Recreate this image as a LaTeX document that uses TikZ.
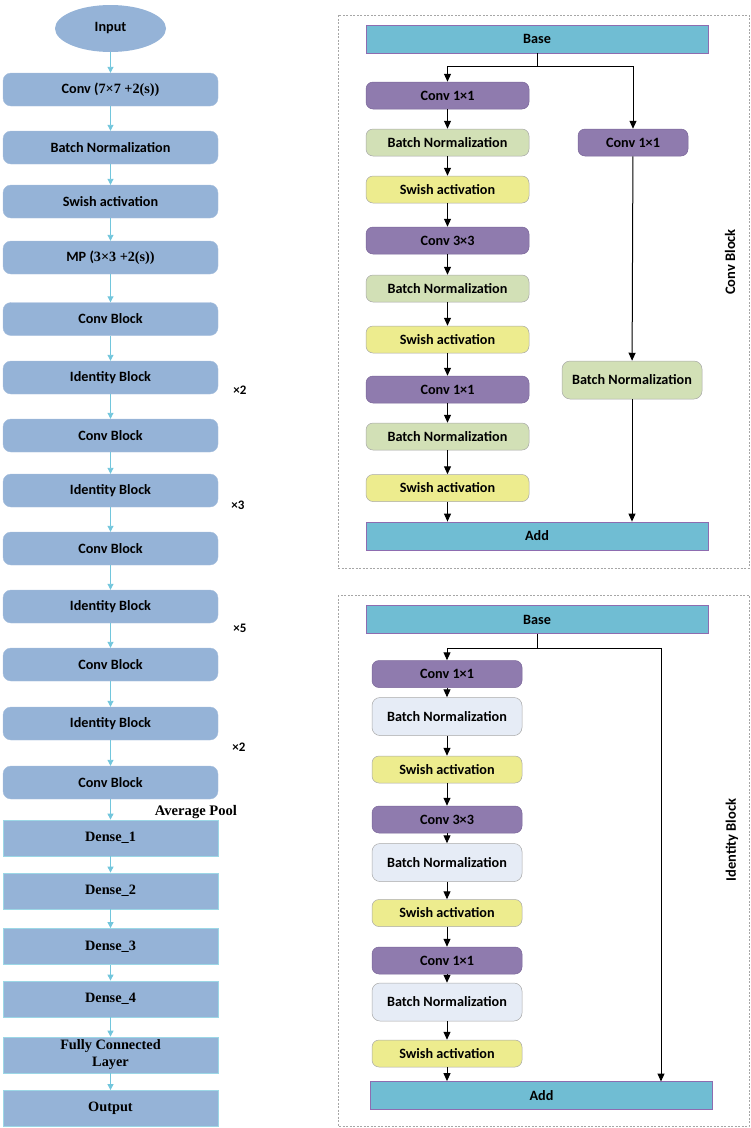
\documentclass[tikz,border=0pt]{standalone}
\usepackage{fontspec}
\setmainfont{Carlito}
\newfontfamily\calfont{Carlito}
\newfontfamily\timesfont{Liberation Serif}
\usetikzlibrary{arrows.meta,shapes.geometric}
\definecolor{lblue}{HTML}{95B3D7}
\definecolor{lcyan}{HTML}{72C6DC}
\definecolor{addcyan}{HTML}{70BDD3}
\definecolor{addedge}{HTML}{8E6CB0}
\definecolor{convpurple}{HTML}{8F7BAE}
\definecolor{convedge}{HTML}{7A6699}
\definecolor{bngreen}{HTML}{D2E0B6}
\definecolor{swyellow}{HTML}{EDEC8E}
\definecolor{bnpale}{HTML}{E6ECF6}
\definecolor{softedge}{HTML}{A8A8A8}
\tikzset{
  every node/.style={inner sep=0pt, font=\calfont\bfseries\fontsize{14.2}{16}\selectfont},
  lbox/.style={rectangle, rounded corners=8pt, fill=lblue, draw=lblue!85!white, minimum width=215pt, minimum height=33pt},
  dbox/.style={rectangle, fill=lblue, draw=lcyan!70!white, line width=0.8pt, minimum width=215pt, minimum height=36pt, font=\timesfont\bfseries\fontsize{14.3}{16}\selectfont},
  larrow/.style={draw=lcyan, line width=0.9pt, -{Triangle[width=6pt,length=6pt]}},
  rarrow/.style={draw=black, line width=1pt, -{Triangle[width=7pt,length=8pt]}},
  rline/.style={draw=black, line width=1pt},
  basebox/.style={rectangle, fill=addcyan, draw=addedge, line width=0.8pt, minimum width=342pt, minimum height=28pt},
  convbox/.style={rectangle, rounded corners=7pt, fill=convpurple, draw=convedge, line width=0.5pt, minimum width=163pt, minimum height=27pt},
  bnbox/.style={rectangle, rounded corners=7pt, fill=bngreen, draw=softedge, line width=0.5pt, minimum width=163pt, minimum height=27pt},
  swbox/.style={rectangle, rounded corners=7pt, fill=swyellow, draw=softedge, line width=0.5pt, minimum width=163pt, minimum height=27pt},
  pbox/.style={rectangle, rounded corners=8pt, fill=bnpale, draw=softedge, line width=0.5pt, minimum width=150pt, minimum height=38pt},
  frame/.style={draw=gray!70, dashed, dash pattern=on 2pt off 1.5pt, line width=0.6pt},
  mult/.style={font=\calfont\bfseries\fontsize{13}{15}\selectfont},
  sidelabel/.style={rotate=90, font=\calfont\bfseries\fontsize{14.5}{16}\selectfont}
}
\begin{document}
\begin{tikzpicture}[x=1pt,y=-1pt]
\useasboundingbox (0,0) rectangle (751,1128);

% ---------------- main network ----------------
\node[ellipse, fill=lblue, minimum width=111pt, minimum height=47pt] (in) at (110.5,28.5) {Input};
\node[lbox] (m1) at (110.5,89.5) {Conv (\timesfont 7×7 +2(s))};
\node[lbox] (m2) at (110.5,147.5) {Batch Normalization};
\node[lbox] (m3) at (110.5,201.5) {Swish activation};
\node[lbox] (m4) at (110.5,257.5) {MP (\timesfont 3×3 +2(s))};
\node[lbox] (m5) at (110.5,319) {Conv Block};
\node[lbox] (m6) at (110.5,377.5) {Identity Block};
\node[lbox] (m7) at (110.5,435.5) {Conv Block};
\node[lbox] (m8) at (110.5,490.5) {Identity Block};
\node[lbox] (m9) at (110.5,548.5) {Conv Block};
\node[lbox] (m10) at (110.5,606.5) {Identity Block};
\node[lbox] (m11) at (110.5,664.5) {Conv Block};
\node[lbox] (m12) at (110.5,723.5) {Identity Block};
\node[lbox] (m13) at (110.5,782.5) {Conv Block};
\node[dbox] (d1) at (110.5,838) {Dense\_1};
\node[dbox] (d2) at (110.5,891) {Dense\_2};
\node[dbox] (d3) at (110.5,946.5) {Dense\_3};
\node[dbox] (d4) at (110.5,999) {Dense\_4};
\node[dbox, align=center, font=\timesfont\bfseries\fontsize{14.3}{17}\selectfont] (fc) at (110.5,1055) {Fully Connected\\Layer};
\node[dbox] (out) at (110.5,1108.5) {Output};

\foreach \a/\b in {in/m1,m1/m2,m2/m3,m3/m4,m4/m5,m5/m6,m6/m7,m7/m8,m8/m9,m9/m10,m10/m11,m11/m12,m12/m13,m13/d1,d1/d2,d2/d3,d3/d4,d4/fc,fc/out}
  \draw[larrow] (\a) -- (\b);

\node[mult] (x1) at (240,390) {×2};
\node[mult] (x2) at (238,505) {×3};
\node[mult] (x3) at (240,628) {×5};
\node[mult] (x4) at (239,747) {×2};
\node[font=\timesfont\bfseries\fontsize{14.6}{16}\selectfont] (ap) at (196,812) {Average Pool};

% ---------------- Conv Block ----------------
\draw[frame] (338,15) rectangle (749,568);
\node[basebox] (cbase) at (537,39) {Base};
\node[convbox] (c1) at (447.5,95.5) {Conv 1×1};
\node[bnbox] (c2) at (447.5,142.5) {Batch Normalization};
\node[swbox] (c3) at (447.5,189.5) {Swish activation};
\node[convbox] (c4) at (447.5,240.5) {Conv 3×3};
\node[bnbox] (c5) at (447.5,288.5) {Batch Normalization};
\node[swbox] (c6) at (447.5,339.5) {Swish activation};
\node[convbox] (c7) at (447.5,389.5) {Conv 1×1};
\node[bnbox] (c8) at (447.5,436.5) {Batch Normalization};
\node[swbox] (c9) at (447.5,488) {Swish activation};
\node[basebox] (cadd) at (537,536) {Add};
\node[convbox, minimum width=110pt] (cr1) at (633,142.5) {Conv 1×1};
\node[bnbox, rounded corners=8pt, minimum width=140pt, minimum height=38pt] (cr2) at (632,380) {Batch Normalization};
\node[sidelabel] (cbl) at (730,262) {Conv Block};

\coordinate (csplit) at (537,66);
\draw[rline] (cbase) -- (csplit);
\draw[rarrow] (csplit) -| (c1);
\draw[rarrow] (csplit) -| (cr1);
\foreach \a/\b in {c1/c2,c2/c3,c3/c4,c4/c5,c5/c6,c6/c7,c7/c8,c8/c9}
  \draw[rarrow] (\a) -- (\b);
\draw[rarrow] (c9) -- (c9 |- cadd.north);
\draw[rarrow] (cr1) -- (cr2);
\draw[rarrow] (cr2.south) -- (cr2.south |- cadd.north);

% ---------------- Identity Block ----------------
\draw[frame] (338,595) rectangle (749,1126);
\node[basebox] (ibase) at (537,619.5) {Base};
\node[convbox, minimum width=150pt] (i1) at (447,674) {Conv 1×1};
\node[pbox] (i2) at (447,716.5) {Batch Normalization};
\node[swbox, minimum width=150pt] (i3) at (447,769.5) {Swish activation};
\node[convbox, minimum width=150pt] (i4) at (447,819.5) {Conv 3×3};
\node[pbox] (i5) at (447,862.5) {Batch Normalization};
\node[swbox, minimum width=150pt] (i6) at (447,913) {Swish activation};
\node[convbox, minimum width=150pt] (i7) at (447,960.5) {Conv 1×1};
\node[pbox] (i8) at (447,1002) {Batch Normalization};
\node[swbox, minimum width=150pt] (i9) at (447,1053.5) {Swish activation};
\node[basebox] (iadd) at (541.5,1095.5) {Add};
\node[sidelabel] (ibl) at (732,840) {Identity Block};

\coordinate (isplit) at (537,648);
\coordinate (iskip) at (661,1081.5);
\draw[rline] (ibase) -- (isplit);
\draw[rarrow] (isplit) -| (i1);
\draw[rarrow] (isplit) -| (iskip);
\foreach \a/\b in {i1/i2,i2/i3,i3/i4,i4/i5,i5/i6,i6/i7,i7/i8,i8/i9}
  \draw[rarrow] (\a) -- (\b);
\draw[rarrow] (i9) -- (i9 |- iadd.north);
\end{tikzpicture}
\end{document}
